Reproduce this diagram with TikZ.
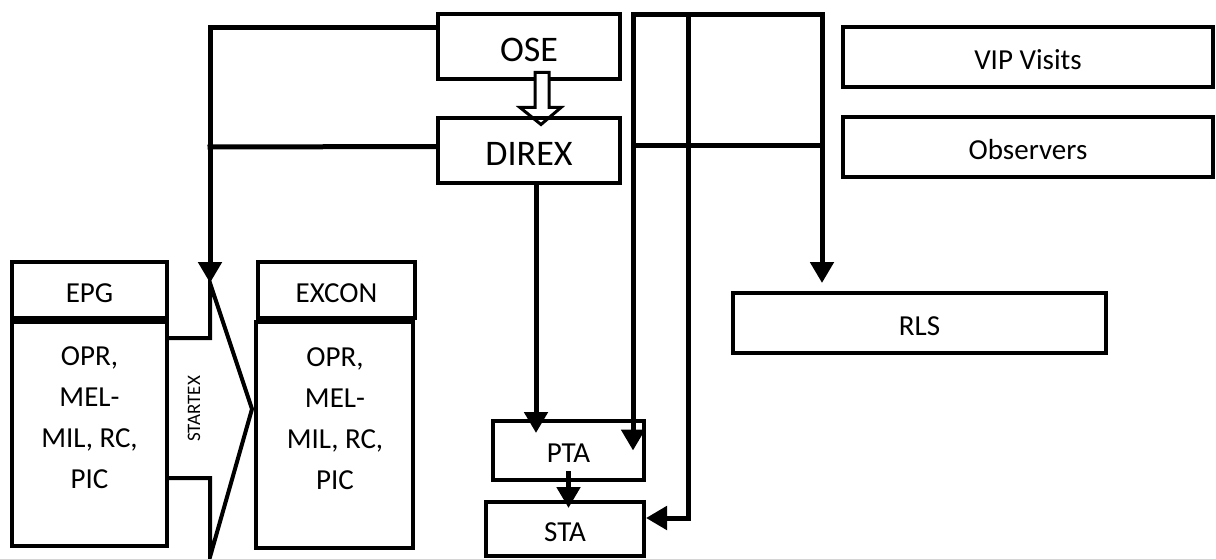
\documentclass[tikz,border=0pt]{standalone}
\usepackage{fontspec}
\setmainfont{Carlito}
\usetikzlibrary{arrows.meta, positioning, calc}

\begin{document}
\begin{tikzpicture}[
    x=1pt, y=-1pt,
    box/.style={rectangle, draw, line width=4pt, inner sep=0pt, text height=24pt, text depth=0pt, font=\fontsize{29}{34}\selectfont},
    bigbox/.style={box, minimum width=182pt, minimum height=65pt, text height=30pt, font=\fontsize{36}{42}\selectfont},
    sidebox/.style={box, minimum width=370pt, minimum height=60pt},
    headbox/.style={box, minimum width=155pt, minimum height=56pt},
    bodybox/.style={box, minimum width=155pt, minimum height=224pt},
    bodytext/.style={align=center, inner sep=0pt, font=\fontsize{29}{41}\selectfont},
    wire/.style={line width=5pt, line cap=rect},
    arr/.style={wire, -{Triangle[width=23pt,length=21pt]}},
    hollow/.style={line width=3pt, fill=white},
]
    \useasboundingbox (0,0) rectangle (1216,559);

    % Top: OSE over DIREX
    \node[bigbox] (ose) at (529,47) {OSE};
    \draw[hollow] ($(ose.south)+(6,-9)$) -- ++(14,0) -- ++(0,35) -- ++(12,0) -- ++(-20,17) -- ++(-21,-17) -- ++(15,0) -- cycle;
    \node[bigbox, below=35pt of ose] (direx) {DIREX};

    % Right column
    \node[sidebox] (vip) at (1028,57.5) {VIP Visits};
    \node[sidebox, below=26pt of vip] (observers) {Observers};
    \node[box, minimum width=373pt, minimum height=60pt] (rls) at (919.5,323) {RLS};

    % Bottom middle
    \node[box, minimum width=151pt, minimum height=59pt] (pta) at (568.5,450.5) {PTA};
    \node[box, minimum width=158pt, minimum height=54pt] (sta) at (565,529) {STA};

    % Left: EPG and EXCON
    \node[headbox] (epg) at (89.5,290) {EPG};
    \node[bodybox, below=0pt of epg] (epgbody) {};
    \node[bodytext] (epgtext) at (89.5,417.5) {OPR,\\MEL-\\MIL, RC,\\PIC};
    \node[headbox, minimum width=157pt] (excon) at (336.5,290) {EXCON};
    \node[bodybox, below=0pt of excon, xshift=-2pt, minimum width=157pt, minimum height=226pt] (exconbody) {};
    \node[bodytext] (excontext) at (335,419) {OPR,\\MEL-\\MIL, RC,\\PIC};

    % STARTEX block arrow
    \coordinate (stxtop) at (210,283);
    \draw[line width=4pt] (169,338) -- (210,338) -- (stxtop) -- (252,409) -- (210,557) -- (210,478) -- (169,478);
    \node[rotate=90, inner sep=0pt, font=\fontsize{19}{19}\selectfont] (startex) at (194,409) {STARTEX};

    % OSE / DIREX down to STARTEX
    \coordinate (ljoin) at (210,147);
    \draw[arr] ([yshift=19pt]ose.west) -| (stxtop);
    \draw[wire] ([yshift=4.5pt]direx.west) -- (ljoin);

    % DIREX to PTA
    \draw[arr] ([xshift=7pt]direx.south) -- ([xshift=-32.5pt,yshift=-14pt]pta.north);

    % frame of lines on the right
    \coordinate (bustl) at (633,15);
    \coordinate (bustm) at (688,15);
    \coordinate (bustr) at (822,15);
    \coordinate (busml) at (633,146);
    \coordinate (busmr) at (822,146);
    \draw[arr] (bustl) -- (bustr) -- ([yshift=8pt]bustr |- rls.north);
    \draw[arr] (bustl) -- (bustl |- pta.center);
    \draw[wire] (busml) -- (busmr);
    \draw[arr] (bustm) |- ([yshift=11pt]sta.east);

    % PTA to STA
    \draw[arr] ([yshift=9pt]pta.south) -- ([yshift=-8pt]pta.south |- sta.north);
\end{tikzpicture}
\end{document}
